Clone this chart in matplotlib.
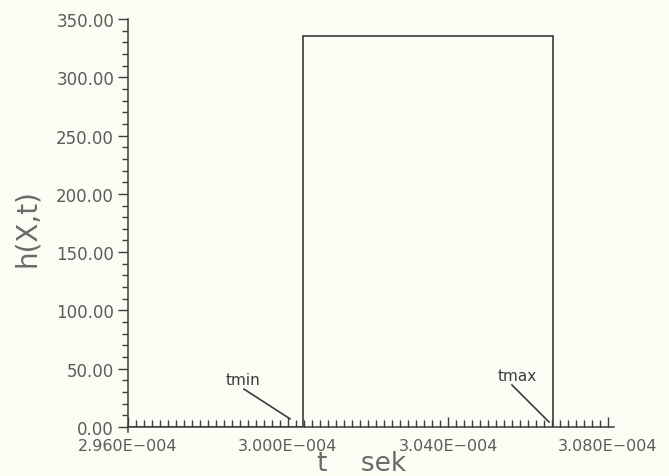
import matplotlib
matplotlib.use("Agg")
import numpy as np
import matplotlib.pyplot as plt
from matplotlib.ticker import FixedLocator

# data (time in seconds)
t_points = [2.960e-4, 3.00375e-4, 3.00375e-4, 3.0663e-4, 3.0663e-4]
h_points = [0.0, 0.0, 335.0, 335.0, 0.0]
x_ticks = [2.960e-4, 3.000e-4, 3.040e-4, 3.080e-4]
x_tick_labels = ["2.960E\u2212004", "3.000E\u2212004", "3.040E\u2212004", "3.080E\u2212004"]
y_ticks = [0, 50, 100, 150, 200, 250, 300, 350]
y_tick_labels = ["%.2f" % v for v in y_ticks]
annot_names = ["tmin", "tmax"]
annot_text_xy = [(2.98875e-4, 40.5), (3.05725e-4, 44.5)]
annot_line_from = [(2.9890e-4, 32.5), (3.0560e-4, 36.0)]
annot_line_to = [(3.0005e-4, 7.0), (3.06525e-4, 4.3)]

x_min, x_max = 2.960e-4, 3.0815e-4
x_minor_step = 2e-7
y_minor_step = 10

bg = "#fbfcf3"
txt = "#5c5c58"
ln = "#3c3c3a"

fig = plt.figure(figsize=(6.69, 4.77), dpi=100, facecolor=bg)
ax = fig.add_axes([128/669, 1-428/477, (614-128)/669, (428-20)/477])
ax.set_facecolor(bg)

ax.plot(t_points, h_points, color=ln, lw=1.2, solid_joinstyle="miter")

for name, txy, p0, p1 in zip(annot_names, annot_text_xy, annot_line_from, annot_line_to):
    ax.text(txy[0], txy[1], name, ha="center", va="center", fontsize=11,
            color=ln, family="DejaVu Sans")
    ax.plot([p0[0], p1[0]], [p0[1], p1[1]], color=ln, lw=1.2)

ax.set_xlim(x_min, x_max)
ax.set_ylim(0, 350)

for s in ["top", "right"]:
    ax.spines[s].set_visible(False)
for s in ["left", "bottom"]:
    ax.spines[s].set_color(ln)
    ax.spines[s].set_linewidth(1.1)
ax.spines["left"].set_bounds(-4, 350)

n_minor = int(round((x_max - x_min) / x_minor_step))
ax.xaxis.set_major_locator(FixedLocator(x_ticks))
ax.set_xticklabels(x_tick_labels)
ax.xaxis.set_minor_locator(FixedLocator(x_min + x_minor_step * np.arange(n_minor + 1)))
ax.yaxis.set_major_locator(FixedLocator(y_ticks))
ax.set_yticklabels(y_tick_labels)
ax.yaxis.set_minor_locator(FixedLocator(np.arange(0, 351, y_minor_step)))

ax.tick_params(axis="x", which="both", direction="in", colors=ln, labelcolor=txt,
               labelsize=11.5, pad=8)
ax.tick_params(axis="x", which="major", length=7, width=1.0)
ax.tick_params(axis="x", which="minor", length=5, width=1.0)
ax.tick_params(axis="y", which="both", direction="out", colors=ln, labelcolor=txt,
               labelsize=12, pad=3)
ax.tick_params(axis="y", which="major", length=7, width=1.0)
ax.tick_params(axis="y", which="minor", length=4, width=1.0)

fig.text(27/669, 1-228/477, "h(X,t)", rotation=90, ha="center", va="center",
         fontsize=20, color="#6a6a66")
fig.text(362/669, 1-464/477, "t    sek", ha="center", va="center",
         fontsize=19, color="#6a6a66")

fig.savefig("out.png", dpi=100, facecolor=bg)
